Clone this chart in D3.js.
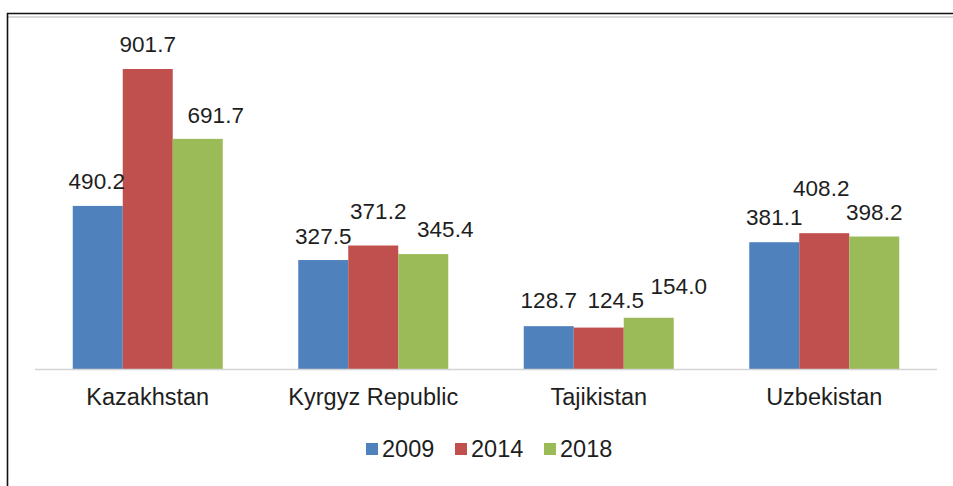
<!DOCTYPE html>
<html>
<head>
<meta charset="utf-8">
<script src="https://cdn.jsdelivr.net/npm/d3@7/dist/d3.min.js"></script>
<style>
  html, body { margin: 0; padding: 0; background: #fff; }
  svg { display: block; font-family: "Liberation Sans", Arial, sans-serif; }
</style>
</head>
<body>
<svg id="chart" width="953" height="486"></svg>
<script>
// Categories and series
const countries = ["Kazakhstan", "Kyrgyz Republic", "Tajikistan", "Uzbekistan"];
const years = ["2009", "2014", "2018"];
const values2009 = [490.2, 327.5, 128.7, 381.1];
const values2014 = [901.7, 371.2, 124.5, 408.2];
const values2018 = [691.7, 345.4, 154.0, 398.2];
const seriesColors = ["#4F81BD", "#C0504D", "#9BBB59"];

// Small shifts [dx, dy] keeping neighbouring value labels apart (per country, per year)
const labelNudge = [
  [[-1, 0], [0, 0], [18, 1]],
  [[0, 1], [5, -10], [22, 0]],
  [[0, -1], [17, -3], [30, -7]],
  [[0, 0], [-3, -20], [0, 0]]
];

const seriesValues = [values2009, values2014, values2018];
const rows = countries.map((c, i) => ({
  country: c,
  i: i,
  vals: years.map((y, j) => ({ year: y, j: j, value: seriesValues[j][i] }))
}));

const svg = d3.select("#chart");

// Outer frame (top and left edges) with a soft shadow
svg.append("path").attr("d", "M7.5,486 V15.5 H953")
  .attr("fill", "none").attr("stroke", "#b0b0b0").attr("stroke-width", 1)
  .attr("transform", "translate(0,1.5)");
svg.append("path").attr("d", "M7.5,486 V13.5 H953")
  .attr("fill", "none").attr("stroke", "#111").attr("stroke-width", 1.6);

const plot = { left: 35, right: 937, top: 36.3, bottom: 369 };

const x0 = d3.scaleBand().domain(countries)
  .range([plot.left, plot.right])
  .paddingInner(0.3348).paddingOuter(0.1674);
const x1 = d3.scaleBand().domain(years).range([0, x0.bandwidth()]);
const y = d3.scaleLinear().domain([0, 1000]).range([plot.bottom, plot.top]);
const color = d3.scaleOrdinal().domain(years).range(seriesColors);

// Bars
const groups = svg.append("g").selectAll("g").data(rows).join("g")
  .attr("transform", d => `translate(${x0(d.country)},0)`);

groups.selectAll("rect").data(d => d.vals).join("rect")
  .attr("x", d => x1(d.year))
  .attr("width", x1.bandwidth())
  .attr("y", d => y(d.value))
  .attr("height", d => y(0) - y(d.value))
  .attr("fill", d => color(d.year));

// Value labels
groups.each(function(row) {
  d3.select(this).selectAll("text.val").data(row.vals).join("text")
    .attr("class", "val")
    .attr("x", d => x1(d.year) + x1.bandwidth() / 2 + labelNudge[row.i][d.j][0])
    .attr("y", d => y(d.value) - 17 + labelNudge[row.i][d.j][1])
    .attr("text-anchor", "middle")
    .attr("font-size", "22.5px")
    .attr("fill", "#1e1e1e")
    .text(d => d.value.toFixed(1));
});

// Category axis
const axis = svg.append("g")
  .attr("transform", `translate(0,${plot.bottom})`)
  .call(d3.axisBottom(x0).tickSize(0));
axis.select(".domain").remove();
axis.selectAll("text")
  .attr("y", 36).attr("dy", null)
  .attr("font-size", "23.5px")
  .attr("fill", "#1e1e1e")
  .attr("font-family", "Liberation Sans, Arial, sans-serif");

svg.append("line")
  .attr("x1", plot.left).attr("x2", plot.right)
  .attr("y1", plot.bottom + 0.5).attr("y2", plot.bottom + 0.5)
  .attr("stroke", "#d4d4d4").attr("stroke-width", 1.5);

// Legend
const legend = svg.append("g").attr("transform", "translate(366,443)");
const item = legend.selectAll("g").data(years).join("g")
  .attr("transform", (d, i) => `translate(${i * 89},0)`);
item.append("rect").attr("width", 12).attr("height", 12)
  .attr("fill", d => color(d));
item.append("text").attr("x", 16).attr("y", 14)
  .attr("font-size", "23.5px").attr("fill", "#1e1e1e")
  .text(d => d);
</script>
</body>
</html>
